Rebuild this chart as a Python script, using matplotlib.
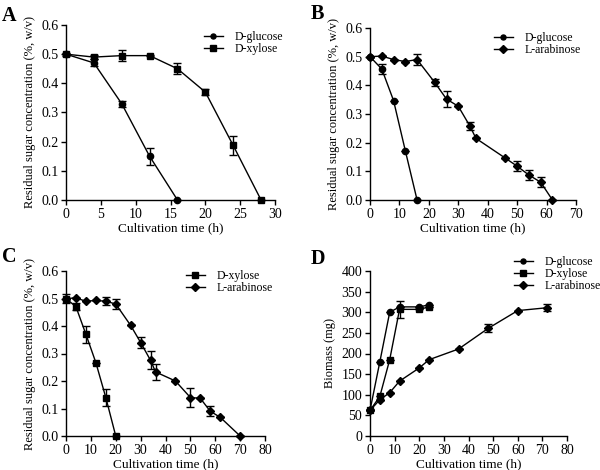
import matplotlib
matplotlib.use("Agg")
import matplotlib.pyplot as plt
from matplotlib.lines import Line2D
import numpy as np

plt.rcParams['font.family'] = ['Liberation Serif', 'DejaVu Serif']
plt.rcParams['mathtext.fontset'] = 'stix'

# ---- Panel A ----
a_glc_t = [0, 4, 8, 12, 16]
a_glc_y = [0.50, 0.47, 0.33, 0.15, 0.0]
a_glc_e = [0.005, 0.012, 0.010, 0.030, 0.0]
a_xyl_t = [0, 4, 8, 12, 16, 20, 24, 28]
a_xyl_y = [0.50, 0.49, 0.495, 0.495, 0.45, 0.37, 0.187, 0.0]
a_xyl_e = [0.0, 0.006, 0.020, 0.003, 0.018, 0.010, 0.032, 0.0]

# ---- Panel B ----
b_glc_t = [0, 4, 8, 12, 16]
b_glc_y = [0.50, 0.457, 0.347, 0.172, 0.0]
b_glc_e = [0.0, 0.018, 0.0, 0.0, 0.0]
b_ara_t = [0, 4, 8, 12, 16, 22, 26, 30, 34, 36, 46, 50, 54, 58, 62]
b_ara_y = [0.50, 0.502, 0.49, 0.483, 0.49, 0.41, 0.352, 0.327, 0.257, 0.215,
           0.146, 0.118, 0.087, 0.062, 0.0]
b_ara_e = [0.0, 0.0, 0.0, 0.0, 0.018, 0.012, 0.027, 0.0, 0.014, 0.0,
           0.0, 0.017, 0.017, 0.018, 0.0]

# ---- Panel C ----
c_xyl_t = [0, 4, 8, 12, 16, 20]
c_xyl_y = [0.50, 0.47, 0.37, 0.267, 0.14, 0.0]
c_xyl_e = [0.015, 0.012, 0.030, 0.0, 0.030, 0.0]
c_ara_t = [0, 4, 8, 12, 16, 20, 26, 30, 34, 36, 44, 50, 54, 58, 62, 70]
c_ara_y = [0.50, 0.502, 0.49, 0.493, 0.49, 0.48, 0.402, 0.34, 0.275, 0.233,
           0.20, 0.14, 0.137, 0.09, 0.068, 0.0]
c_ara_e = [0.0, 0.0, 0.0, 0.0, 0.015, 0.018, 0.0, 0.020, 0.033, 0.030,
           0.0, 0.035, 0.0, 0.018, 0.0, 0.0]

# ---- Panel D ----
d_glc_t = [0, 4, 8, 12, 20, 24]
d_glc_y = [62, 180, 300, 313, 313, 318]
d_glc_e = [0, 0, 0, 0, 0, 0]
d_xyl_t = [0, 4, 8, 12, 20, 24]
d_xyl_y = [62, 96, 185, 307, 307, 313]
d_xyl_e = [0, 0, 0, 21, 0, 0]
d_ara_t = [0, 4, 8, 12, 20, 24, 36, 48, 60, 72]
d_ara_y = [62, 88, 105, 133, 165, 185, 211, 261, 304, 311]
d_ara_e = [0, 0, 0, 0, 0, 0, 0, 10, 0, 8]

W, H = 600, 470
fig = plt.figure(figsize=(6, 4.7), dpi=100)


def make_ax(l, r, t, b):
    return fig.add_axes([l / W, 1 - b / H, (r - l) / W, (b - t) / H])


def style(ax, xmax, xstep, ymax, ystep, yfmt, ylabel):
    for s in ['top', 'right']:
        ax.spines[s].set_visible(False)
    for s in ['left', 'bottom']:
        ax.spines[s].set_linewidth(1.0)
    ax.set_xlim(0, xmax)
    ax.set_ylim(0, ymax)
    ax.set_xticks(np.arange(0, xmax + 1e-9, xstep))
    ax.set_yticks(np.arange(0, ymax + 1e-9, ystep))
    ax.yaxis.set_major_formatter(plt.FormatStrFormatter(yfmt))
    ax.tick_params(direction='out', length=3.5, width=1.0, labelsize=10, pad=2)
    ax.set_xlabel('Cultivation time (h)', fontsize=9.5, labelpad=1)
    ax.set_ylabel(ylabel, fontsize=9, labelpad=4)


def series(ax, t, y, e, marker, ms, label):
    ax.errorbar(t, y, yerr=e, color='black', marker=marker, markersize=ms,
                linewidth=1.0, elinewidth=1.0, capsize=3, capthick=1.0,
                clip_on=False, zorder=3)
    return Line2D([], [], color='black', marker=marker, markersize=ms * 0.8,
                  linewidth=1.0, label=label)


def leg(ax, handles, x, yc):
    ax.legend(handles=handles, loc='upper left', frameon=False,
              bbox_to_anchor=(x / W, 1 - (yc - 7) / H), bbox_transform=fig.transFigure,
              borderaxespad=0, borderpad=0, fontsize=8.5, handlelength=1.6,
              handletextpad=1.0, labelspacing=0.0)


ylab = 'Residual sugar concentration (%, w/v)'

axA = make_ax(66, 275, 25, 200)
h1 = series(axA, a_glc_t, a_glc_y, a_glc_e, 'o', 4.5, 'D-glucose')
h2 = series(axA, a_xyl_t, a_xyl_y, a_xyl_e, 's', 5, 'D-xylose')
style(axA, 30, 5, 0.6, 0.1, '%.1f', ylab)
leg(axA, [h1, h2], 204, 38)

axB = make_ax(370, 576, 28, 200)
h1 = series(axB, b_glc_t, b_glc_y, b_glc_e, 'o', 4.5, 'D-glucose')
h2 = series(axB, b_ara_t, b_ara_y, b_ara_e, 'D', 4.5, 'L-arabinose')
style(axB, 70, 10, 0.6, 0.1, '%.1f', ylab)
leg(axB, [h1, h2], 494, 39)

axC = make_ax(66, 265, 271, 436)
h1 = series(axC, c_xyl_t, c_xyl_y, c_xyl_e, 's', 5, 'D-xylose')
h2 = series(axC, c_ara_t, c_ara_y, c_ara_e, 'D', 4.5, 'L-arabinose')
style(axC, 80, 10, 0.6, 0.1, '%.1f', ylab)
leg(axC, [h1, h2], 186, 277)

axD = make_ax(370, 567, 271, 436)
h1 = series(axD, d_glc_t, d_glc_y, d_glc_e, 'o', 4.5, 'D-glucose')
h2 = series(axD, d_xyl_t, d_xyl_y, d_xyl_e, 's', 5, 'D-xylose')
h3 = series(axD, d_ara_t, d_ara_y, d_ara_e, 'D', 4.5, 'L-arabinose')
style(axD, 80, 10, 400, 50, '%d', 'Biomass (mg)')
leg(axD, [h1, h2, h3], 514, 263)

for letter, x, y in [('A', 2, 6), ('B', 311, 4), ('C', 2, 247), ('D', 311, 249)]:
    fig.text(x / W, 1 - y / H, letter, fontsize=14.5, fontweight='bold',
             ha='left', va='top')

fig.savefig('out.png', dpi=100)
